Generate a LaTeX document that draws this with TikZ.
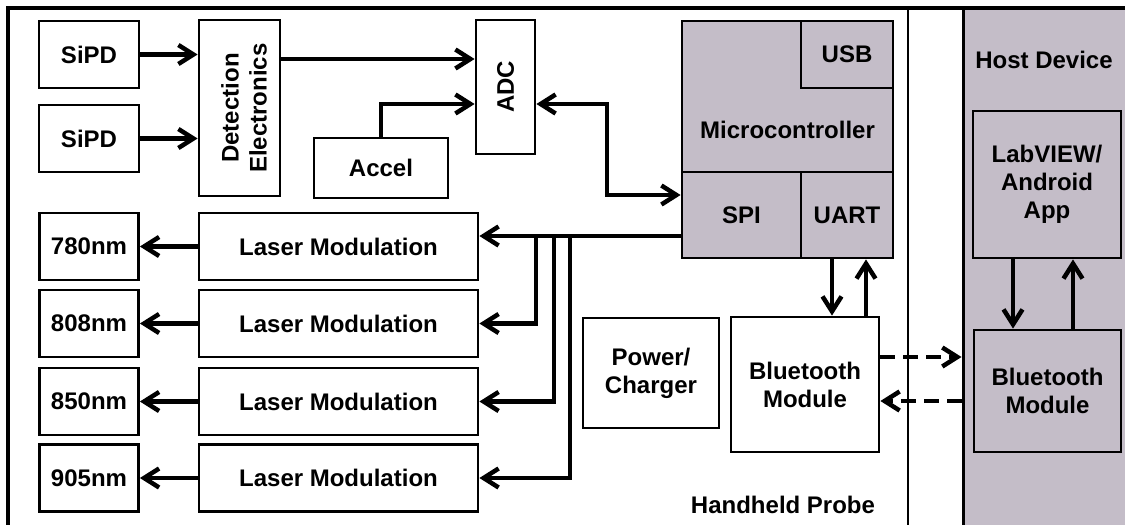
\documentclass[tikz,border=0pt]{standalone}
\usepackage{fontspec}
\setmainfont{Liberation Sans}
\usetikzlibrary{arrows.meta}
\definecolor{shade}{RGB}{196,189,200}
\begin{document}
\begin{tikzpicture}[x=1pt,y=-1pt,
  >={Straight Barb[length=15pt,width=19pt]},
  txt/.style={font=\fontsize{24}{28}\selectfont\bfseries},
  box/.style={draw, line width=2.8pt, fill=white, inner sep=0pt, align=center, txt},
  sbox/.style={box, fill=shade},
  lbl/.style={inner sep=0pt, align=center, txt},
  arr/.style={line width=4.5pt, ->},
  barr/.style={line width=4.5pt, <->},
  darr/.style={arr, dash pattern=on 15pt off 8pt},
  frame/.style={line width=4.5pt, line join=miter},
  ]
\useasboundingbox (0,0) rectangle (1125,525);
\fill[white] (0,0) rectangle (1125,525);

% host region
\node[draw, line width=3pt, fill=shade, inner sep=0pt, minimum width=175pt, minimum height=530pt] (host) at (1050.5,273) {};
\node[lbl] (hosttxt) at (1044,60) {Host Device};

% frame lines
\draw[line width=2.4pt] (908,8) -- (908,530);
\draw[frame] (8,530) -- (8,8) -- (1130,8);

% left column
\node[box, minimum width=100pt, minimum height=67pt] (sipd1) at (89,54.5) {SiPD};
\node[box, minimum width=100pt, minimum height=67pt] (sipd2) at (89,138.5) {SiPD};
\node[box, minimum width=81pt, minimum height=176pt] (det) at (239.5,108) {};
\node[lbl, rotate=90] (dettxt) at (244,108) {Detection\\Electronics};
\node[box, minimum width=59pt, minimum height=134pt] (adc) at (505.5,87) {\rotatebox{90}{ADC}};
\node[box, minimum width=134pt, minimum height=60pt] (accel) at (381,168) {Accel};

% microcontroller
\node[sbox, minimum width=211pt, minimum height=237pt] (mcu) at (787.5,139.5) {};
\node[sbox, minimum width=92pt, minimum height=67pt] (usb) at (847,54.5) {USB};
\node[sbox, minimum width=119pt, minimum height=86pt] (spi) at (741.5,215) {SPI};
\node[sbox, minimum width=92pt, minimum height=86pt] (uart) at (847,215) {UART};
\node[lbl] (mctxt) at (787.5,130) {Microcontroller};

% lasers
\foreach \i/\y/\w in {1/246.5/780nm,2/323.5/808nm,3/401.5/850nm,4/478/905nm}{
  \node[box, minimum width=279pt, minimum height=67pt] (las\i) at (338.5,\y) {Laser Modulation};
  \node[box, minimum width=99pt, minimum height=67pt] (wl\i) at (89,\y) {\w};
  \draw[arr] (las\i.west) -- (wl\i.east);
}

% bottom middle
\node[box, minimum width=136pt, minimum height=110pt] (pwr) at (651,373) {Power/\\Charger};
\node[box, minimum width=148pt, minimum height=135pt] (bt) at (805,384.5) {Bluetooth\\Module};
\node[lbl] (probetxt) at (783,505) {Handheld Probe};

% host boxes
\node[sbox, minimum width=148pt, minimum height=147pt] (lab) at (1047,184.5) {LabVIEW/\\Android\\App};
\node[sbox, minimum width=147pt, minimum height=122pt] (hbt) at (1047.5,391) {Bluetooth\\Module};

% connectors
\draw[arr] (sipd1.east) -- (sipd1.east -| det.west);
\draw[arr] (sipd2.east) -- (sipd2.east -| det.west);
\draw[arr] (det.east |- 0,59) -- (adc.west |- 0,59);
\draw[arr] (accel.north) |- (adc.west |- 0,104);
\coordinate (bend) at (607,195);
\draw[barr] (adc.east |- 0,104) -| (bend) -- (spi.west |- bend);

\coordinate (b1) at (536,236);
\coordinate (b2) at (554,236);
\coordinate (b3) at (570,236);
\draw[arr] (spi.west |- b1) -- (las1.east |- b1);
\draw[arr] (b1) |- (las2.east);
\draw[arr] (b2) |- (las3.east);
\draw[arr] (b3) |- (las4.east);

\draw[arr] (uart.south -| 832,0) -- (bt.north -| 832,0);
\draw[arr] (bt.north -| 866,0) -- (uart.south -| 866,0);

\draw[darr] (bt.east |- 0,357) -- (host.west |- 0,357);
\draw[darr] (host.west |- 0,401) -- (bt.east |- 0,401);

\draw[arr] (lab.south -| 1013,0) -- (hbt.north -| 1013,0);
\draw[arr] (hbt.north -| 1073,0) -- (lab.south -| 1073,0);
\end{tikzpicture}
\end{document}
